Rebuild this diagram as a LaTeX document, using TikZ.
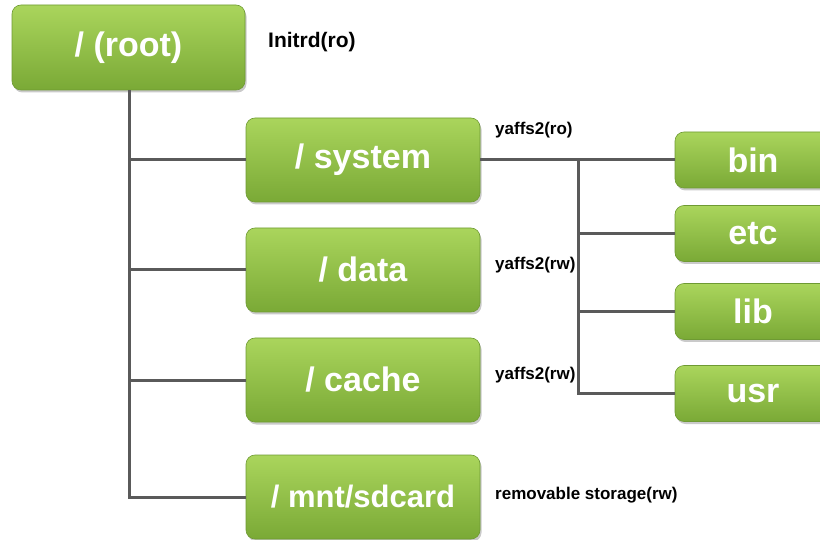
\documentclass[tikz,border=0pt]{standalone}
\usepackage{fontspec}
\setmainfont{Liberation Sans}
\usetikzlibrary{shadows}
\definecolor{gtop}{HTML}{AAD55C}
\definecolor{gbot}{HTML}{7AA936}
\definecolor{gedge}{HTML}{6E9A33}
\definecolor{wire}{HTML}{5A5A5A}
\tikzset{
  dirbox/.style={rounded corners=9pt, top color=gtop, bottom color=gbot, draw=gedge, line width=0.6pt,
    drop shadow={shadow xshift=1.5pt, shadow yshift=-2.5pt, opacity=0.35, fill=black!60},
    text=white, font=\fontsize{34}{38}\selectfont\bfseries, inner sep=0pt},
  wire/.style={draw=wire, line width=3pt},
  tag/.style={anchor=west, inner sep=0pt, font=\fontsize{17}{20}\selectfont\bfseries}
}
\begin{document}
\begin{tikzpicture}[x=1pt,y=-1pt]
\useasboundingbox (0,0) rectangle (820,540);
% nodes
\node[dirbox, minimum width=233pt, minimum height=85pt] (root) at (128.5,47.5) {/ (root)};
\node[dirbox, minimum width=234pt, minimum height=84pt] (system) at (363,160) {/ system};
\node[dirbox, minimum width=234pt, minimum height=84pt] (data) at (363,270) {/ data};
\node[dirbox, minimum width=234pt, minimum height=84pt] (cache) at (363,380) {/ cache};
\node[dirbox, minimum width=234pt, minimum height=84pt, font=\fontsize{31}{34}\selectfont\bfseries] (sdcard) at (363,497) {/ mnt/sdcard};
\node[dirbox, minimum width=156pt, minimum height=56pt] (bin) at (753,160) {bin};
\node[dirbox, minimum width=156pt, minimum height=56pt] (etc) at (753,233.5) {etc};
\node[dirbox, minimum width=156pt, minimum height=56pt] (lib) at (753,311.5) {lib};
\node[dirbox, minimum width=156pt, minimum height=56pt] (usr) at (753,393.5) {usr};
% labels
\node[tag, font=\fontsize{21}{24}\selectfont\bfseries] (lroot) at (268,42) {Initrd(ro)};
\node[tag] (lsys) at (495,130) {yaffs2(ro)};
\node[tag] (ldata) at (495,265) {yaffs2(rw)};
\node[tag] (lcache) at (495,375) {yaffs2(rw)};
\node[tag] (lsd) at (495,495) {removable storage(rw)};
% connectors
\coordinate (trunk) at (129,497);
\coordinate (branch) at (578,393.5);
\draw[wire] (root.south -| trunk) -- (trunk) -- (sdcard.west);
\draw[wire] (system.west -| trunk) -- (system.west);
\draw[wire] (data.west -| trunk) -- (data.west);
\draw[wire] (cache.west -| trunk) -- (cache.west);
\draw[wire] (system.east) -- (bin.west);
\draw[wire] (system.east -| branch) -- (branch) -- (usr.west);
\draw[wire] (etc.west -| branch) -- (etc.west);
\draw[wire] (lib.west -| branch) -- (lib.west);
\end{tikzpicture}
\end{document}
